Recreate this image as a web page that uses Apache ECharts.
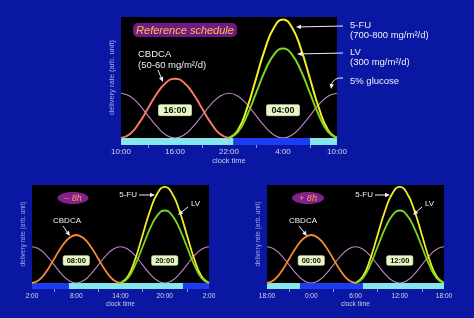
<!DOCTYPE html>
<html><head><meta charset="utf-8">
<script src="https://cdn.jsdelivr.net/npm/echarts@6/dist/echarts.min.js"></script>
<style>html,body{margin:0;padding:0;background:#0a17a2}#c{width:474px;height:318px}</style>
</head><body><div id="c"></div>
<script>
// hours since the start of each panel's 24-h window
const hours = [0,1,2,3,4,5,6,7,8,9,10,11,12,13,14,15,16,17,18,19,20,21,22,23,24];
// delivery rate (arb. unit)
const cbdca   = [0,3.3,12.3,24.5,36.8,45.7,49,45.7,36.8,24.5,12.3,3.3,0,null,null,null,null,null,null,null,null,null,null,null,null];
const fu      = [null,null,null,null,null,null,null,null,null,null,null,null,0,6.6,24.5,49,73.5,91.4,98,91.4,73.5,49,24.5,6.6,0];
const lv      = [null,null,null,null,null,null,null,null,null,null,null,null,0,5,18.5,37,55.5,69,74,69,55.5,37,18.5,5,0];
const glucose = [37,34.5,27.8,18.5,9.3,2.5,0,2.5,9.3,18.5,27.8,34.5,37,34.5,27.8,18.5,9.3,2.5,0,2.5,9.3,18.5,27.8,34.5,37];

const panelNames = ['Reference schedule', '\u2013 8h', '+ 8h'];
const panelStart = [10, 2, 18];           // clock hour at left edge
const tickRef   = ['10:00','16:00','22:00','4:00','10:00'];
const tickMinus = ['2:00','8:00','14:00','20:00','2:00'];
const tickPlus  = ['18:00','0:00','6:00','12:00','18:00'];
const peakRef   = ['16:00','04:00'];
const peakMinus = ['08:00','20:00'];
const peakPlus  = ['00:00','12:00'];
const peakOffsets = [6, 18];
const restSpan = [22.5, 7];               // rest (clock hours)

const ticks = [tickRef, tickMinus, tickPlus];
const peaks = [peakRef, peakMinus, peakPlus];

const FONT = '"Liberation Sans", Arial, sans-serif';
const layout = [
  {left:121, top:17, width:216, height:121, barH:7, tickFs:8, tickM:3, nameFs:7.5, nameGap:12, yFs:7.5, yGap:5, peakFs:9, lw:2, cb:'#f47a66', boxPad:[1.5,5,0.5,5]},
  {left:32,  top:185, width:177, height:98, barH:6, tickFs:6.5, tickM:4, nameFs:6.5, nameGap:11, yFs:6.5, yGap:5.5, peakFs:7.5, lw:1.8, cb:'#f68a34', boxPad:[1,3.5,0.5,3.5]},
  {left:267, top:185, width:177, height:98, barH:6, tickFs:6.5, tickM:4, nameFs:6.5, nameGap:11, yFs:6.5, yGap:5.5, peakFs:7.5, lw:1.8, cb:'#f68a34', boxPad:[1,3.5,0.5,3.5]}
];

function restBars(start){
  let s = (restSpan[0] - start + 24) % 24, e = (restSpan[1] - start + 24) % 24;
  if (s < e) return [[0,s,0],[s,e,1],[e,24,0]];
  return [[0,e,1],[e,s,0],[s,24,1]];
}
const pair = arr => hours.map((h,i)=>[h, arr[i]]);

const grid=[], xAxis=[], yAxis=[], series=[];
layout.forEach((L,p)=>{
  const gc = 2*p, gb = 2*p+1;
  grid.push({left:L.left, top:L.top, width:L.width, height:L.height, show:true, backgroundColor:'#000', borderWidth:0});
  grid.push({left:L.left, top:L.top+L.height, width:L.width, height:L.barH, show:false});
  xAxis.push({gridIndex:gc, type:'value', min:0, max:24, show:false});
  xAxis.push({gridIndex:gb, type:'value', min:0, max:24, interval:6,
    axisLine:{show:false}, axisTick:{show:false}, splitLine:{show:false},
    minorTick:{show:true, splitNumber:2, length:3, lineStyle:{color:'#9a9ab8', width:1}},
    minorSplitLine:{show:false},
    axisLabel:{margin:L.tickM, fontSize:L.tickFs, color:'#d8d8e6', fontFamily:FONT, formatter:v=>ticks[p][Math.round(v/6)]},
    name:'clock time', nameLocation:'middle', nameGap:L.nameGap,
    nameTextStyle:{fontSize:L.nameFs, color:'#c8cce8', fontFamily:FONT}});
  yAxis.push({gridIndex:gc, type:'value', min:0, max:100,
    axisLine:{show:false}, axisTick:{show:false}, axisLabel:{show:false}, splitLine:{show:false},
    name:'delivery rate (arb. unit)', nameLocation:'middle', nameGap:L.yGap, nameRotate:90,
    nameTextStyle:{fontSize:L.yFs, color:'#a4aaea', fontFamily:FONT}});
  yAxis.push({gridIndex:gb, type:'value', min:0, max:1, show:false});
  const base = {type:'line', xAxisIndex:gc, yAxisIndex:gc, smooth:0.5, symbol:'none', silent:true};
  series.push(Object.assign({}, base, {name:'5% glucose', data:pair(glucose), lineStyle:{color:'#bc86c4', width:1.1}}));
  series.push(Object.assign({}, base, {name:'CBDCA', data:pair(cbdca), lineStyle:{color:L.cb, width:L.lw}}));
  series.push(Object.assign({}, base, {name:'5-FU', data:pair(fu), lineStyle:{color:'#f2f024', width:L.lw}}));
  series.push(Object.assign({}, base, {name:'LV', data:pair(lv), lineStyle:{color:'#7ed622', width:L.lw}}));
  series.push({type:'custom', xAxisIndex:gb, yAxisIndex:gb, silent:true, data:restBars(panelStart[p]),
    encode:{x:[0,1]},
    renderItem:(params, api)=>{
      const a = api.coord([api.value(0), 1]), b = api.coord([api.value(1), 0]);
      return {type:'rect', shape:{x:a[0], y:a[1], width:b[0]-a[0], height:b[1]-a[1]},
        style:{fill: api.value(2) ? '#1c3cf2' : '#86e6f0'}};
    }});
});

// annotation helpers
const WHITE = '#eeeef6';
function txt(t, x, y, fs, opts){
  opts = opts || {};
  return {type:'text', z:100, x:x, y:y, style:Object.assign({text:t, fill:WHITE, font:(opts.style||'')+' '+fs+'px '+FONT,
    align:opts.align||'left', verticalAlign:'middle', textAlign:opts.align||'left', textVerticalAlign:'middle'}, opts.extra||{})};
}
function head(x, y, ang, L, W){
  const c = Math.cos(ang), s = Math.sin(ang);
  const bx = x - L*c, by = y - L*s;
  return {type:'polygon', z:100, shape:{points:[[x,y],[bx - W*s, by + W*c],[bx + W*s, by - W*c]]}, style:{fill:WHITE}};
}
function arrow(x1,y1,x2,y2){
  const ang = Math.atan2(y2-y1, x2-x1);
  return [{type:'line', z:100, shape:{x1:x1,y1:y1,x2:x2 - 3*Math.cos(ang),y2:y2 - 3*Math.sin(ang)}, style:{stroke:WHITE, lineWidth:1}},
          head(x2,y2,ang,5,2.2)];
}

const g = [];
// top panel
g.push({type:'rect', z:100, shape:{x:133, y:23, width:104, height:14, r:5}, style:{fill:'#721a84'}});
g.push(txt(panelNames[0], 185, 30.5, 11, {style:'italic', align:'center', extra:{fill:'#f2c24a'}}));
g.push(txt('5-FU', 350, 25, 9.5));
g.push(txt('(700-800 mg/m\u00b2/d)', 350, 35, 9.5));
g.push(txt('LV', 350, 52.5, 9.5));
g.push(txt('(300 mg/m\u00b2/d)', 350, 62.5, 9.5));
g.push(txt('5% glucose', 350, 81, 9.5));
g.push(txt('CBDCA', 138, 54.5, 9.5));
g.push(txt('(50-60 mg/m\u00b2/d)', 138, 65, 9.5));
g.push(...arrow(343, 26, 296, 27));
g.push(...arrow(343, 53, 297, 54));
g.push(...arrow(158, 70, 163, 82));
g.push({type:'bezierCurve', z:100, shape:{x1:343, y1:78, cpx1:334, cpy1:77, x2:331, y2:85}, style:{stroke:WHITE, lineWidth:1, fill:null}});
g.push(head(331, 89, Math.PI/2 + 0.15, 5, 2.2));
// -8h panel
g.push({type:'ellipse', z:100, shape:{cx:73, cy:198, rx:15.5, ry:6}, style:{fill:'#84208e'}});
g.push(txt(panelNames[1], 73, 198, 9, {style:'italic', align:'center', extra:{fill:'#f4a83c'}}));
g.push(txt('5-FU', 137, 195, 8, {align:'right'}));
g.push(...arrow(139, 195, 155, 195));
g.push(txt('LV', 191, 204, 8));
g.push(...arrow(188, 207, 178, 215));
g.push(txt('CBDCA', 53, 221, 8));
g.push(...arrow(63, 226, 70, 236));
// +8h panel
g.push({type:'ellipse', z:100, shape:{cx:308, cy:198, rx:16, ry:6}, style:{fill:'#84208e'}});
g.push(txt(panelNames[2], 308, 198, 9, {style:'italic', align:'center', extra:{fill:'#f4a83c'}}));
g.push(txt('5-FU', 373, 195, 8, {align:'right'}));
g.push(...arrow(375, 195, 390, 195));
g.push(txt('LV', 425, 204, 8));
g.push(...arrow(422, 207, 413, 215));
g.push(txt('CBDCA', 289, 221, 8));
g.push(...arrow(299, 226, 307, 236));

const chart = echarts.init(document.getElementById('c'), null, {renderer:'canvas'});
chart.setOption({
  backgroundColor:'#0a17a2', animation:false,
  grid, xAxis, yAxis, series
});
// peak-time boxes, positioned through each panel's axes
layout.forEach((L,p)=>{
  peakOffsets.forEach((o,i)=>{
    const pt = chart.convertToPixel({gridIndex:2*p}, [o, 23]);
    g.push({type:'text', z:90, x:pt[0], y:pt[1], style:{text:peaks[p][i], font:'bold '+L.peakFs+'px '+FONT,
      fill:'#0e1408', align:'center', verticalAlign:'middle', textAlign:'center', textVerticalAlign:'middle',
      backgroundColor:'#e8f6c8', borderColor:'#8a9a70', borderWidth:0.5, borderRadius:1.5, padding:L.boxPad}});
  });
});
chart.setOption({graphic:{elements:g}});
</script></body></html>
